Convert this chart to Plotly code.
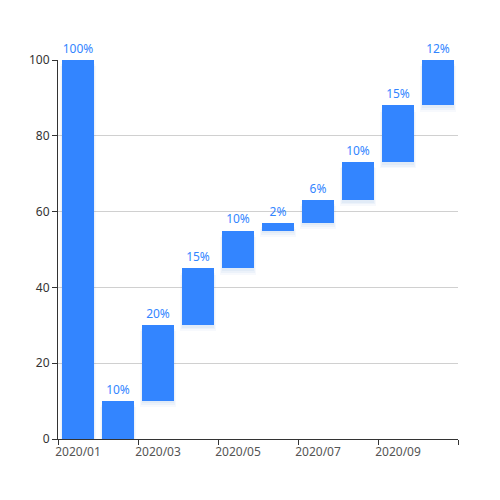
import plotly.graph_objects as go

months = ["2020/01", "2020/02", "2020/03", "2020/04", "2020/05",
          "2020/06", "2020/07", "2020/08", "2020/09", "2020/10"]
bases = [0, 0, 10, 30, 45, 55, 57, 63, 73, 88]
heights = [100, 10, 20, 15, 10, 2, 6, 10, 15, 12]
labels = ["100%", "10%", "20%", "15%", "10%", "2%", "6%", "10%", "15%", "12%"]

xs = list(range(len(months)))
tops = [b + h for b, h in zip(bases, heights)]
blue = "#3385ff"
font = "Noto Sans, sans-serif"

fig = go.Figure()
# soft shadow (layered to imitate a blur)
for off, w, a in [(0.6, 0.82, 0.05), (1.1, 0.86, 0.05), (1.6, 0.9, 0.04)]:
    fig.add_trace(go.Bar(x=xs, y=heights, base=[b - off for b in bases], width=w,
                         marker=dict(color=f"rgba(40,110,200,{a})", line=dict(width=0)),
                         hoverinfo="skip", showlegend=False))
fig.add_trace(go.Bar(x=xs, y=heights, base=bases, width=0.8,
                     marker=dict(color=blue, line=dict(width=0)),
                     showlegend=False))
fig.add_trace(go.Scatter(x=xs, y=tops, mode="markers+text", text=labels,
                         textposition="top center",
                         marker=dict(size=5, opacity=0),
                         textfont=dict(color=blue, size=12, family=font),
                         cliponaxis=False, showlegend=False, hoverinfo="skip"))
# tick labels axis
fig.add_trace(go.Scatter(x=xs, y=[None] * len(xs), xaxis="x2", showlegend=False,
                         hoverinfo="skip"))

fig.update_layout(
    width=492, height=492,
    margin=dict(l=50, r=42, t=52, b=61, autoexpand=False),
    paper_bgcolor="white", plot_bgcolor="white",
    barmode="overlay", bargap=0,
    xaxis=dict(range=[-0.5, 9.5], tickmode="array",
               tickvals=[-0.5, 1.5, 3.5, 5.5, 7.5, 9.5],
               ticktext=[""] * 6, ticks="outside", ticklen=5, tickcolor="#333",
               showline=True, linecolor="#333", linewidth=1, showgrid=False,
               zeroline=False),
    xaxis2=dict(range=[-0.5, 9.5], overlaying="x", side="bottom", tickmode="array",
                tickvals=[0, 2, 4, 6, 8],
                ticktext=[months[i] for i in [0, 2, 4, 6, 8]],
                ticks="", showline=False, showgrid=False, zeroline=False,
                tickfont=dict(color="#555", size=12, family=font), ticklabelstandoff=4),
    yaxis=dict(range=[0, 100], tickvals=[0, 20, 40, 60, 80, 100],
               ticks="outside", ticklen=5, tickcolor="#333",
               showline=True, linecolor="#333", linewidth=1,
               showgrid=True, gridcolor="#d0d0d0", gridwidth=1, zeroline=False,
               tickfont=dict(color="#333", size=12, family=font)),
)
fig.write_html("out.html")
